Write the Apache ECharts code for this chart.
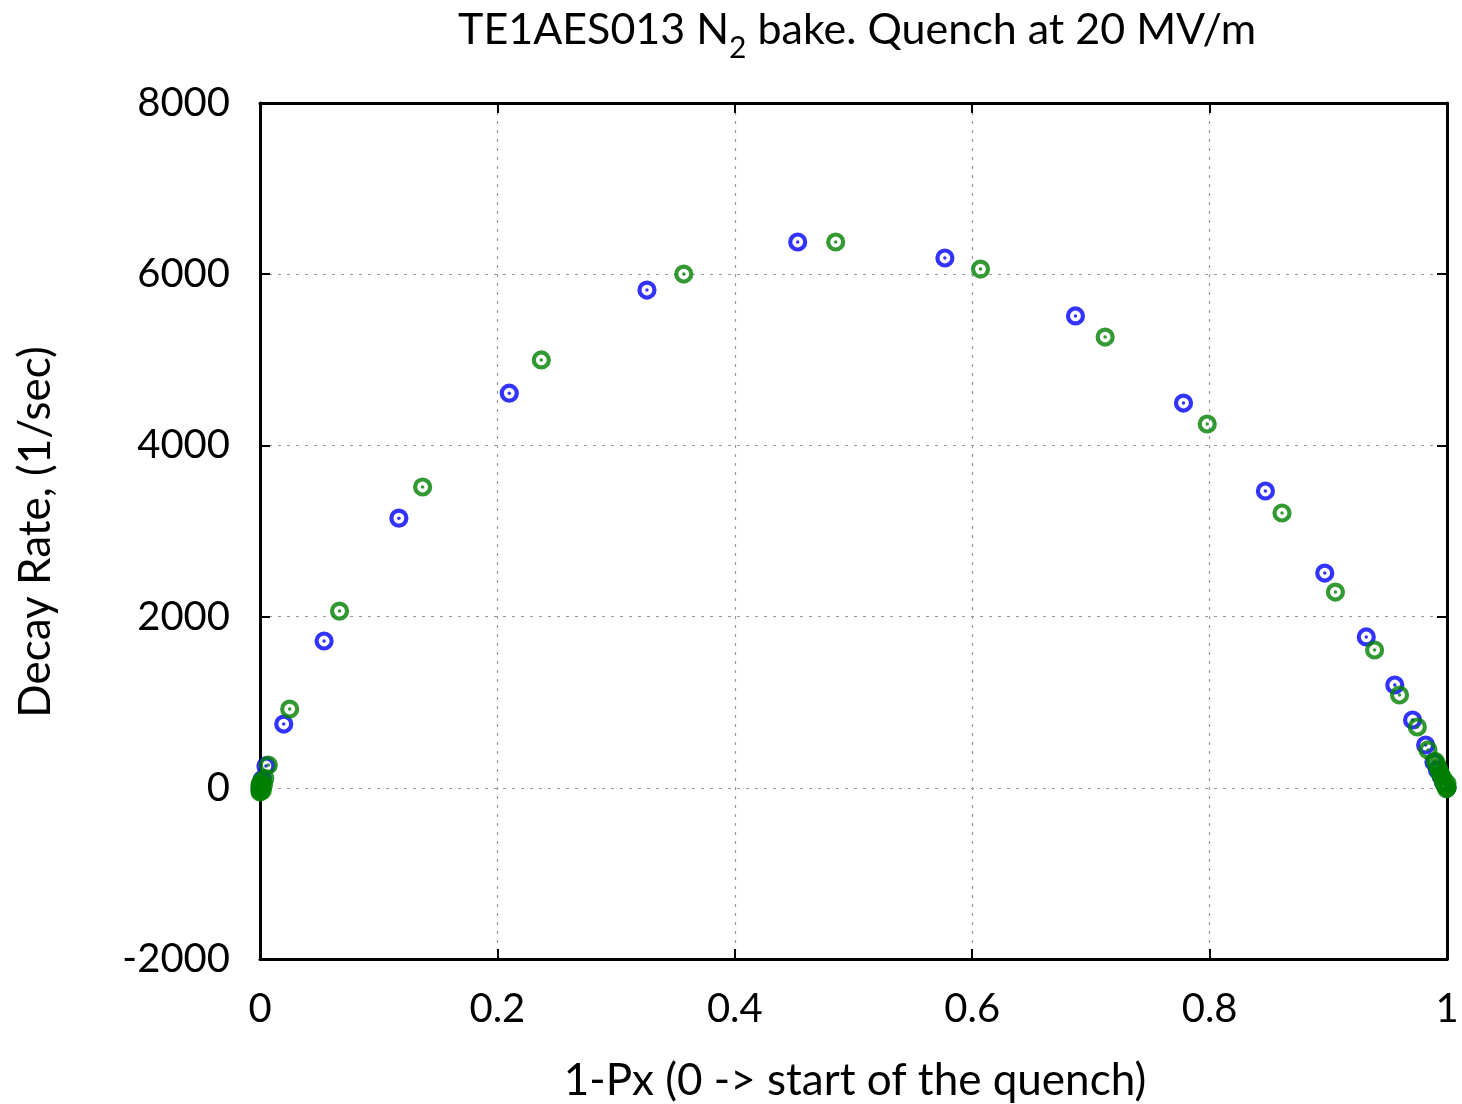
<!DOCTYPE html>
<html>
<head>
<meta charset="utf-8">
<script src="https://cdn.jsdelivr.net/npm/echarts@6/dist/echarts.min.js"></script>
<style>
  html, body { margin: 0; padding: 0; background: #fff; }
  #chart { width: 1462px; height: 1104px; }
</style>
</head>
<body>
<div id="chart"></div>
<script>
// Decay rate vs. 1-Px for two measurement passes
const blueX = [0, 0.0005, 0.001, 0.002, 0.005, 0.020, 0.054, 0.117, 0.210, 0.326, 0.453, 0.577, 0.687, 0.778, 0.847, 0.897, 0.932, 0.956, 0.971, 0.982, 0.989, 0.992, 0.995, 0.997, 0.999, 1.0];
const blueY = [0, 15, 40, 100, 255, 745, 1715, 3150, 4610, 5815, 6376, 6189, 5512, 4495, 3467, 2509, 1762, 1201, 792, 500, 301, 208, 138, 68, 21, 0];

const greenX = [0, 0, 0, 0.0003, 0.0005, 0.0008, 0.001, 0.0015, 0.002, 0.003, 0.004, 0.007, 0.025, 0.067, 0.137, 0.237, 0.357, 0.485, 0.607, 0.712, 0.798, 0.861, 0.906, 0.939, 0.960, 0.975, 0.984, 0.990, 0.9916, 0.993, 0.994, 0.995, 0.9966, 0.997, 0.998, 0.999, 0.9995, 1.0, 1.0, 1.0];
const greenY = [-50, -20, 30, -40, 50, -10, 70, 10, -30, 40, 110, 266, 920, 2064, 3514, 4998, 6002, 6376, 6060, 5266, 4250, 3210, 2287, 1610, 1084, 710, 442, 310, 266, 220, 180, 140, 110, 70, 40, 20, -10, 50, 0, 10];

const xTicks = [0, 0.2, 0.4, 0.6, 0.8, 1];
const yTicks = [-2000, 0, 2000, 4000, 6000, 8000];

const pairs = (xs, ys) => xs.map((x, i) => [x, ys[i]]);
const blueData = pairs(blueX, blueY);
const greenData = pairs(greenX, greenY);

const FONT = 'Lato, "Open Sans", sans-serif';
const BLUE = '#0000ff';
const GREEN = '#007f00';

const ring = (data, color) => ({
  type: 'scatter',
  data: data,
  symbol: 'circle',
  symbolSize: 15,
  itemStyle: { color: 'rgba(0,0,0,0)', borderColor: color, borderWidth: 4.2 },
  silent: true,
  z: 3
});
const dot = (data, color) => ({
  type: 'scatter',
  data: data,
  symbol: 'circle',
  symbolSize: 3.5,
  itemStyle: { color: color },
  silent: true,
  z: 3
});

const frameAxisX = (pos, showLabel) => ({
  type: 'value',
  position: pos,
  min: 0, max: 1, interval: 0.2,
  axisLine: { show: true, onZero: false, lineStyle: { color: '#000', width: 3 } },
  axisTick: { show: true, inside: true, length: 10, lineStyle: { color: '#000', width: 2 } },
  axisLabel: {
    show: showLabel, margin: 30, fontFamily: FONT, fontSize: 40, color: '#000',
    formatter: v => xTicks.includes(+v.toFixed(1)) ? String(+v.toFixed(1)) : ''
  },
  splitLine: { show: showLabel, lineStyle: { color: '#999', width: 1.2, type: [3, 6] } }
});
const frameAxisY = (pos, showLabel) => ({
  type: 'value',
  position: pos,
  min: -2000, max: 8000, interval: 2000,
  axisLine: { show: true, onZero: false, lineStyle: { color: '#000', width: 3 } },
  axisTick: { show: true, inside: true, length: 10, lineStyle: { color: '#000', width: 2 } },
  axisLabel: {
    show: showLabel, margin: 30, fontFamily: FONT, fontSize: 40, color: '#000',
    formatter: v => yTicks.includes(v) ? String(v) : ''
  },
  splitLine: { show: showLabel, lineStyle: { color: '#999', width: 1.2, type: [3, 6] } }
});

const chart = echarts.init(document.getElementById('chart'), null, { renderer: 'canvas' });
chart.setOption({
  backgroundColor: '#fff',
  animation: false,
  title: {
    text: '{a|TE1AES013 N}{s|2}{a| bake. Quench at 20 MV/m}',
    left: 852, top: 4, textAlign: 'center',
    textStyle: {
      fontWeight: 'normal',
      rich: {
        a: { fontFamily: FONT, fontSize: 43, fontWeight: 'normal', color: '#000', lineHeight: 52, verticalAlign: 'top' },
        s: { fontFamily: FONT, fontSize: 30, fontWeight: 'normal', color: '#000', lineHeight: 52, padding: [24, 0, 0, 0], verticalAlign: 'top' }
      }
    }
  },
  grid: { left: 260, right: 15, top: 103, bottom: 145, containLabel: false },
  xAxis: [frameAxisX('bottom', true), frameAxisX('top', false)],
  yAxis: [frameAxisY('left', true), frameAxisY('right', false)],
  graphic: [
    {
      type: 'text', x: 855, y: 1081,
      style: { text: '1-Px (0 -> start of the quench)', font: '44px ' + FONT, fill: '#000', textAlign: 'center', textVerticalAlign: 'middle' }
    },
    {
      type: 'text', x: 36, y: 532, rotation: Math.PI / 2,
      style: { text: 'Decay Rate, (1/sec)', font: '44px ' + FONT, fill: '#000', textAlign: 'center', textVerticalAlign: 'middle' }
    }
  ],
  series: [
    ring(blueData, BLUE), dot(blueData, BLUE),
    ring(greenData, GREEN), dot(greenData, GREEN)
  ]
});
</script>
</body>
</html>
